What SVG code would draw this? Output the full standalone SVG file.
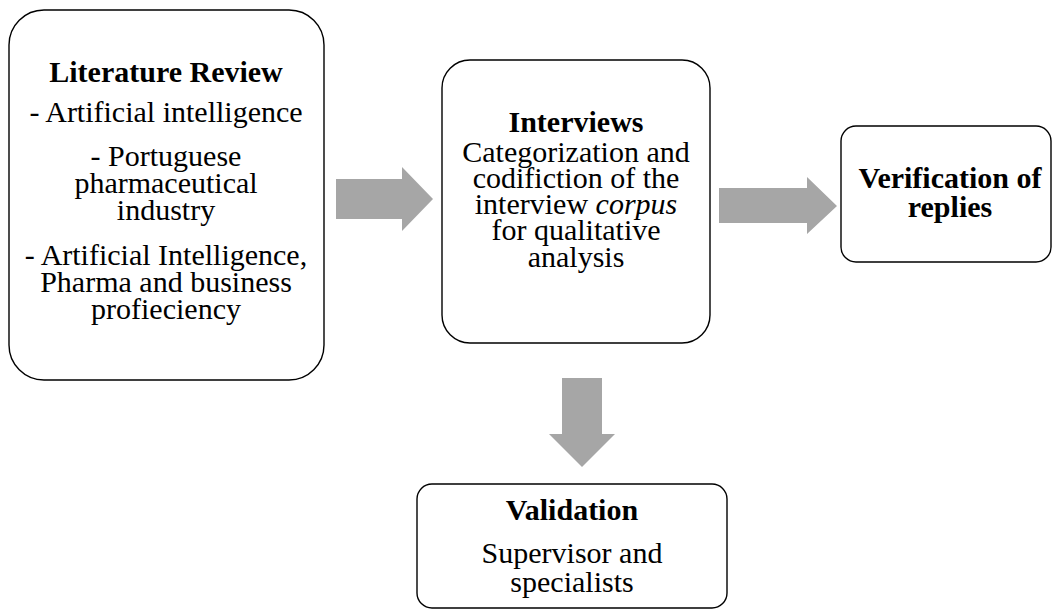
<svg xmlns="http://www.w3.org/2000/svg" width="1053" height="610" viewBox="0 0 1053 610">
<style>
.box{fill:#ffffff;stroke:#000000;stroke-width:1.4}
.arr{fill:#a6a6a6;stroke:none}
text{font-family:"Liberation Serif","Times New Roman",serif;font-size:30px;fill:#000000;text-anchor:middle}
.t{font-weight:bold}
</style>
<rect width="1053" height="610" fill="#ffffff"/>
<g id="connectors">
<polygon class="arr" points="336,179 402,179 402,167 433,199 402,231 402,219 336,219"/>
<polygon class="arr" points="719,188 807,188 807,177 837,206 807,234 807,223 719,223"/>
<polygon class="arr" points="562,378 602,378 602,434 615,434 582,467 549,434 562,434"/>
</g>
<g id="literature-review">
<rect class="box" x="9" y="10" width="315" height="370" rx="35" ry="35"/>
<text class="t" x="166" y="82">Literature Review</text>
<text x="166" y="122">- Artificial intelligence</text>
<text x="166" y="166">- Portuguese</text>
<text x="166" y="193">pharmaceutical</text>
<text x="166" y="220">industry</text>
<text x="166" y="265">- Artificial Intelligence,</text>
<text x="166" y="292">Pharma and business</text>
<text x="166" y="319">profieciency</text>
</g>
<g id="interviews">
<rect class="box" x="442" y="60" width="268" height="283" rx="28" ry="28"/>
<text class="t" x="576" y="132">Interviews</text>
<text x="576" y="162">Categorization and</text>
<text x="576" y="188">codifiction of the</text>
<text x="576" y="214">interview <tspan font-style="italic">corpus</tspan></text>
<text x="576" y="240">for qualitative</text>
<text x="576" y="267">analysis</text>
</g>
<g id="verification">
<rect class="box" x="841" y="126" width="210" height="136" rx="15" ry="15"/>
<text class="t" x="950" y="188">Verification of</text>
<text class="t" x="950" y="217">replies</text>
</g>
<g id="validation">
<rect class="box" x="417" y="484" width="310" height="124" rx="15" ry="15"/>
<text class="t" x="572" y="520">Validation</text>
<text x="572" y="563">Supervisor and</text>
<text x="572" y="592">specialists</text>
</g>
</svg>
